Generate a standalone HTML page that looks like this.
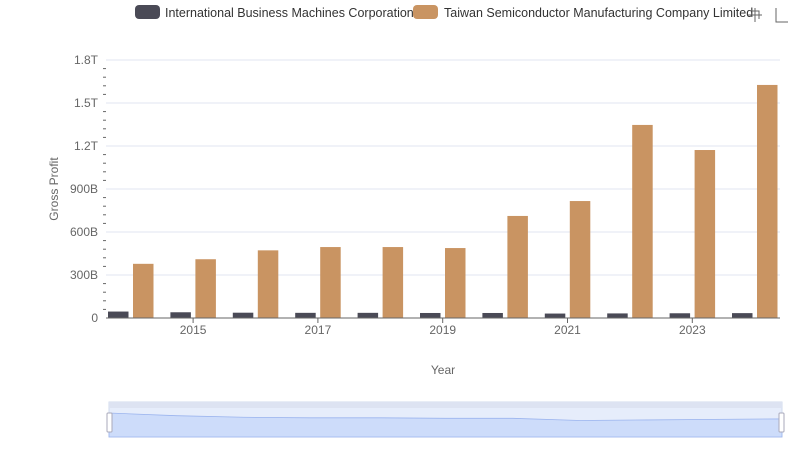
<!DOCTYPE html>
<html><head><meta charset="utf-8"><style>
body{margin:0;background:#fff;font-family:"Liberation Sans",sans-serif}
svg text{font-family:"Liberation Sans",sans-serif}
</style></head><body>
<svg width="800" height="461" xmlns="http://www.w3.org/2000/svg">
<g>
 <g><rect x="135" y="5" width="25" height="14" rx="4" fill="#4a4a56"/><text x="165" y="17" font-size="12.5" fill="#333">International Business Machines Corporation</text></g>
 <g><rect x="413" y="5" width="25" height="14" rx="4" fill="#c99462"/><text x="444" y="17" font-size="12.5" fill="#333">Taiwan Semiconductor Manufacturing Company Limited</text></g>
</g>
<g stroke="#666" fill="none" stroke-width="1">
 <path d="M748 15h14M755 8v14M751 11h8v8"/>
 <path d="M776 8v14h12"/>
</g>
<g id="grid"></g>
<g id="ticks"></g>
<text x="58" y="189" font-size="12" fill="#666" transform="rotate(-90 58 189)" text-anchor="middle">Gross Profit</text>
<g id="bars"></g>
<line x1="106" y1="318" x2="780" y2="318" stroke="#666"/>
<g id="xt"></g>
<text x="443" y="374" font-size="12" fill="#666" text-anchor="middle">Year</text>
<g>
 <rect x="109" y="402" width="673" height="35" fill="#e6edfb" stroke="#d2dbee"/>
 <rect x="109" y="402" width="673" height="6" fill="#dde3f2"/>
 <path id="zarea" fill="#cddcfa" stroke="#9bb4ee" stroke-width="0.8"/>
 <rect x="107" y="413" width="5" height="19" rx="1" fill="#fff" stroke="#aab"/>
 <rect x="779" y="413" width="5" height="19" rx="1" fill="#fff" stroke="#aab"/>
</g>
</svg>
<script>
const years=[2014,2015,2016,2017,2018,2019,2020,2021,2022,2023,2024];
const ibm=[45,40,37,36,36,35,35,31,32,33,34];
const tsmc=[378,410,472,495,495,488,712,816,1347,1172,1626];
const yTicks=[0,300,600,900,1200,1500,1800];
const yLabels=["0","300B","600B","900B","1.2T","1.5T","1.8T"];
const NS="http://www.w3.org/2000/svg";
const y=v=>318-v/1800*258;
const x=i=>108+62.4*i;
function mk(t,a,p){const e=document.createElementNS(NS,t);for(const k in a)e.setAttribute(k,a[k]);p.appendChild(e);return e;}
const grid=document.getElementById('grid'),ticks=document.getElementById('ticks');
yTicks.forEach((v,i)=>{
 if(v>0){const l=mk('line',{x1:106,x2:780,y1:y(v),y2:y(v),stroke:'#e0e6f1'},grid);
 
 }
 const t=mk('text',{x:98,y:y(v)+4,'font-size':12,fill:'#666','text-anchor':'end'},ticks);t.textContent=yLabels[i];
 
 
});
for(let v=60;v<1800;v+=60){if(v%300)mk('line',{x1:103,x2:106,y1:y(v),y2:y(v),stroke:'#666'},ticks);}
const bars=document.getElementById('bars'),xt=document.getElementById('xt');
years.forEach((yr,i)=>{
 const a=mk('rect',{x:x(i),y:y(ibm[i]),width:20.5,height:318-y(ibm[i]),fill:'#4a4a56'},bars);
 
 
 const b=mk('rect',{x:x(i)+25,y:y(tsmc[i]),width:20.5,height:318-y(tsmc[i]),fill:'#c99462'},bars);
 
 
 if(yr%2){const t=mk('text',{x:x(i)+22.7,y:334,'font-size':12,fill:'#666','text-anchor':'middle'},xt);t.textContent=yr;
 
 
 mk('line',{x1:x(i)+22.7,x2:x(i)+22.7,y1:318,y2:323,stroke:'#666'},xt);}
});
const mx=Math.max(...ibm),mn=0;
let d='M109 437';
ibm.forEach((v,i)=>{d+=' L'+(109+i*67.3)+' '+(437-(v/mx)*24);});
d+=' L782 437Z';
document.getElementById('zarea').setAttribute('d',d);
</script>
</body></html>
